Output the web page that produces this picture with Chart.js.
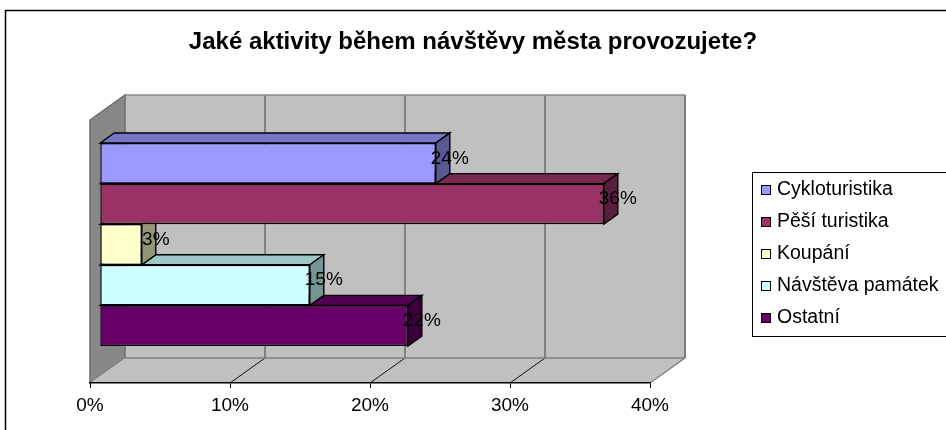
<!DOCTYPE html>
<html>
<head>
<meta charset="utf-8">
<style>
  html, body { margin: 0; padding: 0; background: #fff; }
  #wrap { width: 946px; height: 430px; position: relative; }
</style>
</head>
<body>
<div id="wrap"><canvas id="chart"></canvas></div>
<script src="https://cdn.jsdelivr.net/npm/chart.js@4.4.1/dist/chart.umd.min.js"></script>
<script>
const chartTitle = 'Jaké aktivity během návštěvy města provozujete?';
const activities = ['Cykloturistika', 'Pěší turistika', 'Koupání', 'Návštěva památek', 'Ostatní'];
const shares = [24, 36, 3, 15, 22];
const barColors = ['#9999FF', '#993366', '#FFFFCC', '#CCFFFF', '#660066'];
const axisMax = 40;
const axisStep = 10;

// oblique depth of the box, and where the bars sit inside it (0 = front, 1 = back)
const DX = 35, DY = -25;
const BAR_FRONT = 0.28, BAR_BACK = 0.68;
const FONT = "'Liberation Sans', Arial, sans-serif";

Chart.defaults.font.family = FONT;
Chart.defaults.color = '#000';

function shade(hex, k) {
  const n = parseInt(hex.slice(1), 16);
  const r = Math.round(((n >> 16) & 255) * k);
  const g = Math.round(((n >> 8) & 255) * k);
  const b = Math.round((n & 255) * k);
  return 'rgb(' + r + ',' + g + ',' + b + ')';
}

function poly(ctx, pts, fill, stroke, lw) {
  ctx.beginPath();
  ctx.moveTo(pts[0][0], pts[0][1]);
  for (let i = 1; i < pts.length; i++) ctx.lineTo(pts[i][0], pts[i][1]);
  ctx.closePath();
  if (fill) { ctx.fillStyle = fill; ctx.fill(); }
  if (stroke) { ctx.strokeStyle = stroke; ctx.lineWidth = lw || 1; ctx.stroke(); }
}

function line(ctx, x1, y1, x2, y2, color, lw) {
  ctx.beginPath();
  ctx.moveTo(x1, y1);
  ctx.lineTo(x2, y2);
  ctx.strokeStyle = color;
  ctx.lineWidth = lw;
  ctx.stroke();
}

// walls, floor and gridlines of the 3D box
const box3d = {
  id: 'box3d',
  beforeDraw(chart) {
    const ctx = chart.ctx;
    const xs = chart.scales.x;
    const top = chart.chartArea.top, bottom = chart.chartArea.bottom;
    const x0 = xs.getPixelForValue(0), x1 = xs.getPixelForValue(axisMax);

    ctx.save();
    // outer frame
    ctx.strokeStyle = '#000';
    ctx.lineWidth = 1.5;
    ctx.strokeRect(5.5, 10.5, 1000, 1000);

    // back wall
    poly(ctx, [[x0 + DX, top + DY], [x1 + DX, top + DY], [x1 + DX, bottom + DY], [x0 + DX, bottom + DY]], '#C0C0C0');
    // left wall
    poly(ctx, [[x0, top], [x0 + DX, top + DY], [x0 + DX, bottom + DY], [x0, bottom]], '#888888', '#6e6e6e', 1.5);
    // floor
    poly(ctx, [[x0, bottom], [x1, bottom], [x1 + DX, bottom + DY], [x0 + DX, bottom + DY]], '#C0C0C0');

    for (let v = axisStep; v < axisMax; v += axisStep) {
      const px = xs.getPixelForValue(v);
      line(ctx, px + DX, top + DY, px + DX, bottom + DY, '#555', 1.2);
      line(ctx, px, bottom, px + DX, bottom + DY, '#111', 1);
    }
    line(ctx, x0 + DX, top + DY, x1 + DX, top + DY, '#8a8a8a', 1.5);
    line(ctx, x1 + DX, top + DY, x1 + DX, bottom + DY, '#7a7a7a', 2);
    line(ctx, x0 + DX, bottom + DY, x1 + DX, bottom + DY, '#808080', 1.5);
    line(ctx, x1, bottom, x1 + DX, bottom + DY, '#808080', 1.5);
    ctx.restore();
  },

  // top and end faces of each bar, then shift the front face into the box
  beforeDatasetDraw(chart, args) {
    const ctx = chart.ctx;
    const color = barColors[args.index];
    const bx = DX * (BAR_BACK - BAR_FRONT), by = DY * (BAR_BACK - BAR_FRONT);
    ctx.save();
    ctx.translate(DX * BAR_FRONT, DY * BAR_FRONT);
    args.meta.data.forEach(bar => {
      const p = bar.getProps(['x', 'y', 'base', 'height'], true);
      const t = p.y - p.height / 2, b = p.y + p.height / 2;
      poly(ctx, [[p.base, t], [p.x, t], [p.x + bx, t + by], [p.base + bx, t + by]], shade(color, 0.78), '#000', 1.4);
      poly(ctx, [[p.x, t], [p.x + bx, t + by], [p.x + bx, b + by], [p.x, b]], shade(color, 0.58), '#000', 1.4);
    });
  },
  afterDatasetDraw(chart) {
    chart.ctx.restore();
  },

  afterDatasetsDraw(chart) {
    const ctx = chart.ctx;
    const bx = DX * BAR_BACK, by = DY * BAR_BACK;
    ctx.save();
    ctx.font = '19px ' + FONT;
    ctx.fillStyle = '#000';
    ctx.textAlign = 'center';
    ctx.textBaseline = 'middle';
    chart.data.datasets.forEach((ds, i) => {
      chart.getDatasetMeta(i).data.forEach((bar, j) => {
        const p = bar.getProps(['x', 'y'], true);
        ctx.fillText(ds.data[j] + '%', p.x + bx, p.y + DY * BAR_FRONT + (by - DY * BAR_FRONT) / 2);
      });
    });
    ctx.restore();
  },

  // legend box on the right
  afterDraw(chart) {
    const ctx = chart.ctx;
    ctx.save();
    ctx.strokeStyle = '#000';
    ctx.lineWidth = 1;
    ctx.strokeRect(752.5, 172.5, 400, 164);
    ctx.font = '19.5px ' + FONT;
    ctx.textBaseline = 'middle';
    ctx.textAlign = 'left';
    activities.forEach((name, i) => {
      const y = 190 + i * 32;
      ctx.fillStyle = barColors[i];
      ctx.fillRect(761.5, y - 4.5, 9, 9);
      ctx.strokeStyle = '#000';
      ctx.strokeRect(761.5, y - 4.5, 9, 9);
      ctx.fillStyle = '#000';
      ctx.fillText(name, 777, y);
    });
    ctx.restore();
  }
};

new Chart(document.getElementById('chart'), {
  type: 'bar',
  data: {
    labels: [''],
    datasets: activities.map((name, i) => ({
      label: name,
      data: [shares[i]],
      backgroundColor: barColors[i],
      borderColor: '#000',
      borderWidth: 1.4,
      borderSkipped: false,
      categoryPercentage: 0.772,
      barPercentage: 1
    }))
  },
  options: {
    indexAxis: 'y',
    responsive: true,
    maintainAspectRatio: false,
    animation: false,
    layout: { padding: 0 },
    plugins: {
      legend: { display: false },
      tooltip: { enabled: false },
      title: {
        display: true,
        text: chartTitle,
        color: '#000',
        font: { size: 24, weight: 'bold', lineHeight: 1.2 },
        padding: { top: 28, bottom: 63.2 }
      }
    },
    scales: {
      x: {
        min: 0,
        max: axisMax,
        ticks: { stepSize: axisStep, padding: 6, font: { size: 19 }, callback: v => v + '%' },
        grid: { drawOnChartArea: false, tickLength: 5, color: '#000' },
        border: { display: true, color: '#000', width: 1.5 },
        afterFit: s => { s.height = 47; }
      },
      y: {
        position: 'left',
        ticks: { display: false },
        grid: { display: false },
        border: { display: false },
        afterFit: s => { s.width = 90; }
      },
      pad: {
        type: 'linear',
        axis: 'y',
        position: 'right',
        ticks: { display: false },
        grid: { display: false },
        border: { display: false },
        afterFit: s => { s.width = 296; }
      }
    }
  },
  plugins: [box3d]
});
</script>
</body>
</html>
